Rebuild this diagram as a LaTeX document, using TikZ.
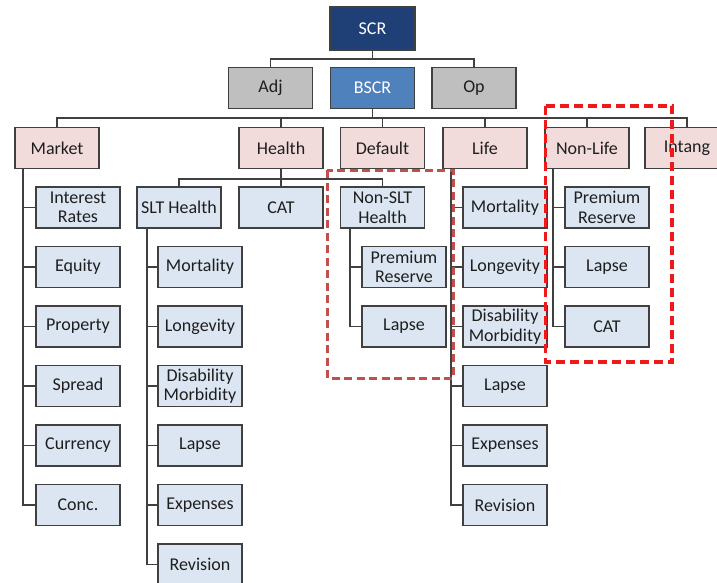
\documentclass[tikz,border=0pt]{standalone}
\usepackage{fontspec}
\setmainfont{Carlito}
\usetikzlibrary{calc}
\definecolor{scrblue}{HTML}{1F3F77}
\definecolor{bscrblue}{HTML}{4F81BD}
\definecolor{greybox}{HTML}{BFBFBF}
\definecolor{pinkbox}{HTML}{F2DCDB}
\definecolor{bluebox}{HTML}{DCE6F2}
\definecolor{edgecol}{HTML}{404040}
\definecolor{txt}{HTML}{1E1E1E}
\definecolor{dashone}{HTML}{C0504D}
\definecolor{dashtwo}{HTML}{F01818}
\begin{document}
\begin{tikzpicture}[x=1pt,y=-1pt,
  box/.style={draw=edgecol,line width=1.4pt,minimum width=84pt,minimum height=41pt,
    inner sep=0pt,align=center,font=\fontsize{18}{19.5}\selectfont,text=txt},
  topbox/.style={box,minimum width=85pt,minimum height=43pt,fill=scrblue,text=white},
  bscrbox/.style={box,fill=bscrblue,text=white},
  greyb/.style={box,fill=greybox},
  pinkb/.style={box,fill=pinkbox},
  blueb/.style={box,fill=bluebox},
  link/.style={draw=edgecol,line width=1.4pt},
  dashA/.style={draw=dashone,line width=3pt,dash pattern=on 8pt off 4.5pt},
  dashB/.style={draw=dashtwo,line width=3.4pt,dash pattern=on 9pt off 5pt}]
\useasboundingbox (0,0) rectangle (717,583);
\clip (0,0) rectangle (717,583);

% level 0/1
\node[topbox] (scr) at (372.5,28.5) {SCR};
\node[greyb] (adj) at (270.5,88) {Adj};
\node[bscrbox] (bscr) at (372.5,88) {BSCR};
\node[greyb] (op) at (474,88) {Op};

% level 2
\node[pinkb] (market) at (57,148) {Market};
\node[pinkb] (health) at (281,148) {Health};
\node[pinkb] (default) at (382.5,148) {Default};
\node[pinkb] (life) at (485,148) {Life};
\node[pinkb] (nonlife) at (587,148) {Non-Life};
\node[pinkb] (intang) at (687,148) {Intang};

% market children
\node[blueb] (m1) at (78,207.5) {Interest\\Rates};
\node[blueb] (m2) at (78,267) {Equity};
\node[blueb] (m3) at (78,326.5) {Property};
\node[blueb] (m4) at (78,386) {Spread};
\node[blueb] (m5) at (78,445.5) {Currency};
\node[blueb] (m6) at (78,505) {Conc.};

% health children
\node[blueb] (slt) at (179,207.5) {SLT Health};
\node[blueb] (cat) at (281,207.5) {CAT};
\node[blueb] (nslt) at (382.5,207.5) {Non-SLT\\Health};

\node[blueb] (s1) at (200,267) {Mortality};
\node[blueb] (s2) at (200,326.5) {Longevity};
\node[blueb] (s3) at (200,386) {Disability\\Morbidity};
\node[blueb] (s4) at (200,445.5) {Lapse};
\node[blueb] (s5) at (200,505) {Expenses};
\node[blueb] (s6) at (200,564.5) {Revision};

\node[blueb] (n1) at (404,267) {Premium\\Reserve};
\node[blueb] (n2) at (404,326.5) {Lapse};

% life children
\node[blueb] (l1) at (505,207.5) {Mortality};
\node[blueb] (l2) at (505,267) {Longevity};
\node[blueb] (l3) at (505,326.5) {Disability\\Morbidity};
\node[blueb] (l4) at (505,386) {Lapse};
\node[blueb] (l5) at (505,445.5) {Expenses};
\node[blueb] (l6) at (505,505) {Revision};

% non-life children
\node[blueb] (nl1) at (607,207.5) {Premium\\Reserve};
\node[blueb] (nl2) at (607,267) {Lapse};
\node[blueb] (nl3) at (607,326.5) {CAT};

% top connectors
\coordinate (b1) at (372.5,59);
\draw[link] (scr.south) -- (b1);
\draw[link] (adj.north) |- (b1) -| (op.north);
\coordinate (b2) at (372.5,118);
\draw[link] (bscr.south) -- (b2);
\draw[link] (market.north) |- (b2) -| (intang.north);
\foreach \n in {health,default,life,nonlife}
  \draw[link] (\n.north) -- (\n.north |- b2);

% health connectors
\coordinate (hb) at (281,179);
\draw[link] (health.south) -- (cat.north);
\draw[link] (slt.north) |- (hb) -| (nslt.north);

% stems
\coordinate (ms) at (23,0);
\draw[link] (market.south -| ms) |- (m6.west);
\foreach \c in {m1,m2,m3,m4,m5}
  \draw[link] (\c.west) -- (\c.west -| ms);

\coordinate (ss) at (147,0);
\draw[link] (slt.south -| ss) |- (s6.west);
\foreach \c in {s1,s2,s3,s4,s5}
  \draw[link] (\c.west) -- (\c.west -| ss);

\coordinate (ns) at (350,0);
\draw[link] (nslt.south -| ns) |- (n2.west);
\draw[link] (n1.west) -- (n1.west -| ns);

\coordinate (ls) at (451,0);
\draw[link] (life.south -| ls) |- (l6.west);
\foreach \c in {l1,l2,l3,l4,l5}
  \draw[link] (\c.west) -- (\c.west -| ls);

\coordinate (nls) at (553,0);
\draw[link] (nonlife.south -| nls) |- (nl3.west);
\foreach \c in {nl1,nl2}
  \draw[link] (\c.west) -- (\c.west -| nls);

% dashed highlight frames
\draw[dashA] (327,170) rectangle (453,378);
\draw[dashB] (545.5,106) rectangle (672,362);
\end{tikzpicture}
\end{document}
